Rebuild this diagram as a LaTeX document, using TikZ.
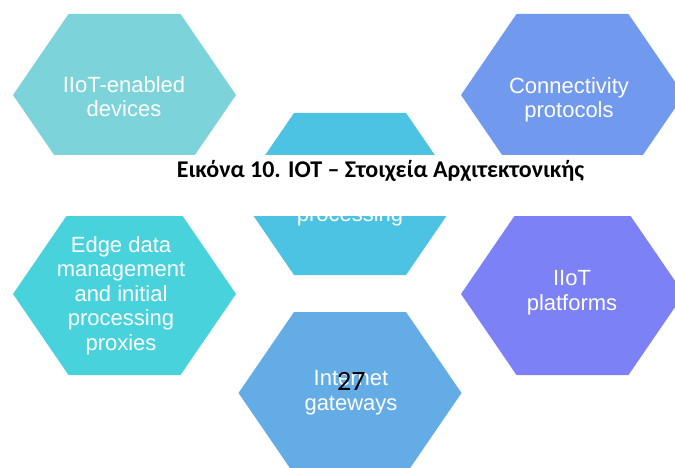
\documentclass[tikz,border=0pt]{standalone}
\usepackage{fontspec}
\setmainfont{Liberation Sans}
\newfontfamily\capfont{Carlito}
\definecolor{hexA}{HTML}{7DD3DA}
\definecolor{hexB}{HTML}{48D2DC}
\definecolor{hexC}{HTML}{4DC3E3}
\definecolor{hexD}{HTML}{64ACE6}
\definecolor{hexE}{HTML}{7199EE}
\definecolor{hexF}{HTML}{7C82F5}
\tikzset{
  hexlabel/.style={text=white, align=center, font=\fontsize{22}{24.5}\selectfont, inner sep=0pt},
  captext/.style={text=black, font=\capfont\bfseries\fontsize{24}{27}\selectfont, inner sep=0pt},
  pagenum/.style={text=black, font=\capfont\fontsize{28}{30}\selectfont, inner sep=0pt},
}
\newcommand\hexagonat[2]{%
  \fill[#1, shift={#2}] (-111.5,0) -- (-56,-81) -- (56,-81) -- (111.5,0) -- (56,81) -- (-56,81) -- cycle;}
\begin{document}
\begin{tikzpicture}[x=1pt,y=-1pt]
\useasboundingbox (0,0) rectangle (675,468);
\begin{scope}
\clip (0,0) rectangle (675,468);
\hexagonat{hexA}{(124.5,95)}
\hexagonat{hexB}{(124.5,294)}
\hexagonat{hexC}{(350,194)}
\hexagonat{hexD}{(350,393)}
\hexagonat{hexE}{(572.5,95)}
\hexagonat{hexF}{(572.5,294)}
\end{scope}
\node[hexlabel, anchor=base] (la) at (124,117) {IIoT-enabled\\devices};
\node[hexlabel, anchor=base] (le) at (569,118) {Connectivity\\protocols};
\node[hexlabel, anchor=base] (lb) at (121,350) {Edge data\\management\\and initial\\processing\\proxies};
\node[hexlabel, anchor=base] (lf) at (572,310) {IIoT\\platforms};
\node[hexlabel, anchor=base] (ld) at (351,410) {Internet\\gateways};
\node[hexlabel, anchor=base] (lc) at (350,222) {processing};
\fill[white] (0,155) rectangle (675,216);
\node[captext, anchor=base] (cap) at (380.5,178) {Εικόνα 10. ΙΟΤ – Στοιχεία Αρχιτεκτονικής};
\node[pagenum, anchor=base west] (pg) at (337,390) {27};
\end{tikzpicture}
\end{document}
